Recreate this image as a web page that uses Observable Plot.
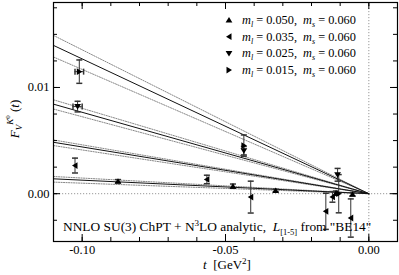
<!DOCTYPE html>
<html><head><meta charset="utf-8">
<script src="https://cdn.jsdelivr.net/npm/d3@7"></script>
<script src="https://cdn.jsdelivr.net/npm/@observablehq/plot@0.6"></script>
<style>body{margin:0;background:#fff}</style>
</head><body><div id="chart"></div>
<script>
// ---- data ----
const mlValues = ["0.050", "0.035", "0.025", "0.015"];
const msValue = "0.060";
const markerKinds = ["up", "left", "down", "right"];

// lattice points per series: t, F, dF, dt
const t050 = [-0.0875, -0.0474, -0.0325, -0.0115, -0.0057];
const f050 = [0.00118, 0.00071, 0.00030, 0.00005, -0.00005];
const e050 = [0.00015, 0.0002, 0.00012, 0.0002, 0.00015];
const dt050 = [0, 0, 0, 0, 0];

const t035 = [-0.1025, -0.0565, -0.0412, -0.0127, -0.0150, -0.0063];
const f035 = [0.00265, 0.00134, -0.00032, -0.0003, -0.00166, -0.00229];
const e035 = [0.0007, 0.0004, 0.0015, 0.0005, 0.0017, 0.0018];
const dt035 = [0, 0, 0, 0, 0, 0];

const t025 = [-0.1016, -0.0436, -0.0109];
const f025 = [0.0082, 0.00405, 0.00178];
const e025 = [0.0005, 0.0004, 0.0006];
const dt025 = [0.0016, 0, 0];

const t015 = [-0.1010, -0.0436, -0.0105];
const f015 = [0.01149, 0.00453, 0.0000];
const e015 = [0.0011, 0.0010, 0.0018];
const dt015 = [0.0015, 0, 0];

// fit curves (central, upper, lower) sampled at t
const fitT = [-0.11, 0.0];
const fit050 = {c: [0.0014, 0], u: [0.00162, 0], l: [0.00109, 0]};
const fit035 = {c: [0.00484, 0], u: [0.00506, 0], l: [0.00453, 0]};
const fit025 = {c: [0.00843, 0], u: [0.00884, 0], l: [0.00797, 0]};
const fit015 = {c: [0.01396, 0], u: [0.0149, 0], l: [0.01287, 0]};

// axes
const xTicks = [-0.10, -0.09, -0.08, -0.07, -0.06, -0.05, -0.04, -0.03, -0.02, -0.01, 0.00];
const xMajor = [-0.10, -0.05, 0.00];
const yTicks = [-0.0025, 0, 0.0025, 0.005, 0.0075, 0.01, 0.0125, 0.015, 0.0175];
const yMajor = [0.00, 0.01];

// ---- build tables ----
const seriesPts = [
  [t050, f050, e050, dt050],
  [t035, f035, e035, dt035],
  [t025, f025, e025, dt025],
  [t015, f015, e015, dt015]
];
const points = [];
seriesPts.forEach(([ts, fs, es, dts], i) => ts.forEach((t, j) =>
  points.push({s: i, t, f: fs[j], e: es[j], dt: dts[j]})));
const fits = [fit050, fit035, fit025, fit015];
const fitRows = [];
fits.forEach((fit, i) => ["c", "u", "l"].forEach(k => fitT.forEach((t, j) =>
  fitRows.push({s: i, k, t, f: fit[k][j]}))));

// symbols
function tri(dir) {
  return {draw(ctx) {
    const a = 3.4, b = 3.0, c = 2.5;
    const pts = {
      up: [[0, -b], [a, c], [-a, c]],
      down: [[0, b], [a, -c], [-a, -c]],
      left: [[-b, 0], [c, -a], [c, a]],
      right: [[b, 0], [-c, -a], [-c, a]]
    }[dir];
    ctx.moveTo(...pts[0]); ctx.lineTo(...pts[1]); ctx.lineTo(...pts[2]); ctx.closePath();
  }};
}
const hcap = {draw(ctx) { ctx.moveTo(-3, 0); ctx.lineTo(3, 0); }};
const vcap = {draw(ctx) { ctx.moveTo(0, -3); ctx.lineTo(0, 3); }};

const W = 399, H = 275, mL = 53, mR = 2, mT = 2, mB = 34;
const fh = H - mT - mB, fw = W - mL - mR;
const font = "Liberation Serif, Times New Roman, serif";
const errColor = "#333";

const marks = [
  Plot.ruleY([0], {stroke: "#999", strokeDasharray: "1.2,1.8"}),
  Plot.ruleX([0], {stroke: "#999", strokeDasharray: "1.2,1.8"}),
  Plot.line(fitRows.filter(d => d.k !== "c"), {x: "t", y: "f", z: d => d.s + d.k, stroke: "#888", strokeWidth: 1, strokeDasharray: "1.2,1.3"}),
  Plot.line(fitRows.filter(d => d.k === "c"), {x: "t", y: "f", z: "s", stroke: "#111", strokeWidth: 1}),
  Plot.ruleX(points, {x: "t", y1: d => d.f - d.e, y2: d => d.f + d.e, stroke: errColor}),
  Plot.dot(points, {x: "t", y: d => d.f + d.e, symbol: hcap, stroke: errColor, r: 2}),
  Plot.dot(points, {x: "t", y: d => d.f - d.e, symbol: hcap, stroke: errColor, r: 2}),
  Plot.ruleY(points.filter(d => d.dt > 0), {y: "f", x1: d => d.t - d.dt, x2: d => d.t + d.dt, stroke: errColor}),
  Plot.dot(points.filter(d => d.dt > 0), {x: d => d.t - d.dt, y: "f", symbol: vcap, stroke: errColor, r: 2}),
  Plot.dot(points.filter(d => d.dt > 0), {x: d => d.t + d.dt, y: "f", symbol: vcap, stroke: errColor, r: 2}),
  ...markerKinds.map((k, i) => Plot.dot(points.filter(d => d.s === i), {x: "t", y: "f", symbol: tri(k), fill: "black", r: 3})),
  // inward ticks
  Plot.ruleX(xTicks, {x: d => d, insetTop: fh - 4}),
  Plot.ruleX(xMajor, {x: d => d, insetTop: fh - 7}),
  Plot.ruleX(xTicks, {x: d => d, insetBottom: fh - 4}),
  Plot.ruleX(xMajor, {x: d => d, insetBottom: fh - 7}),
  Plot.ruleY(yTicks, {y: d => d, insetRight: fw - 4}),
  Plot.ruleY(yMajor, {y: d => d, insetRight: fw - 7}),
  Plot.ruleY(yTicks, {y: d => d, insetLeft: fw - 4}),
  Plot.ruleY(yMajor, {y: d => d, insetLeft: fw - 7}),
  Plot.axisX(xMajor, {tickSize: 0, tickPadding: 4, tickFormat: d => d.toFixed(2), label: null, fontSize: 12.5}),
  Plot.axisY(yMajor, {tickSize: 0, tickPadding: 4, tickFormat: d => d.toFixed(2), label: null, fontSize: 12.5}),
  Plot.frame({stroke: "black", strokeWidth: 1.2})
];

const plot = Plot.plot({
  width: W, height: H,
  marginLeft: mL, marginRight: mR, marginTop: mT, marginBottom: mB,
  x: {domain: [-0.11, 0.01]},
  y: {domain: [-0.0045, 0.018]},
  style: {fontFamily: font, fontSize: "12.5px", color: "black", background: "white", overflow: "visible"},
  marks
});
document.getElementById("chart").appendChild(plot);

// ---- texts with sub/superscripts ----
const svg = d3.select(plot);
function rich(g, x, y, parts, size, anchor = "start") {
  const t = g.append("text").attr("x", x).attr("y", y)
    .attr("font-family", font).attr("font-size", size).attr("fill", "black")
    .attr("text-anchor", anchor)
    .style("white-space", "pre");
  let shift = 0;
  for (const p of parts) {
    const s = t.append("tspan").text(p.text);
    const target = p.dy || 0;
    if (target !== shift) { s.attr("dy", target - shift); shift = target; }
    if (p.italic) s.attr("font-style", "italic");
    if (p.size) s.attr("font-size", p.size);
  }
  return t;
}

// legend
const legX = 229, legTX = 242, legY0 = 20, legDY = 16.7;
mlValues.forEach((ml, i) => {
  const y = legY0 + i * legDY;
  svg.append("path").attr("d", d3.symbol(tri(markerKinds[i]))())
    .attr("transform", `translate(${legX},${y})`).attr("fill", "black");
  rich(svg, legTX, y + 4, [
    {text: "m", italic: true},
    {text: "l", italic: true, size: 8, dy: 3},
    {text: " = " + ml + ",  ", dy: 0},
    {text: "m", italic: true},
    {text: "s", italic: true, size: 8, dy: 3},
    {text: " = " + msValue, dy: 0}
  ], 12.3);
});

// annotation
rich(svg, 63, 231, [
  {text: "NNLO SU(3) ChPT + N"},
  {text: "3", size: 9, dy: -5},
  {text: "LO analytic,  ", dy: 0},
  {text: "L", italic: true},
  {text: "[1-5]", size: 8.5, dy: 4},
  {text: " from \"BE14\"", dy: 0}
], 13.4);

// x label
rich(svg, 227, 269, [
  {text: "t", italic: true},
  {text: "  [GeV"},
  {text: "2", size: 9, dy: -5},
  {text: "]", dy: 0}
], 13, "middle");

// y label
const yl = svg.append("g").attr("transform", "translate(19,119) rotate(-90)");
rich(yl, 0, 0, [
  {text: "F", italic: true},
  {text: "V", italic: true, size: 9, dy: 3},
  {text: "K", italic: true, size: 9, dy: -6},
  {text: "0", size: 7, dy: -9},
  {text: " (", dy: 0},
  {text: "t", italic: true},
  {text: ")"}
], 13, "middle");
</script>
</body></html>
